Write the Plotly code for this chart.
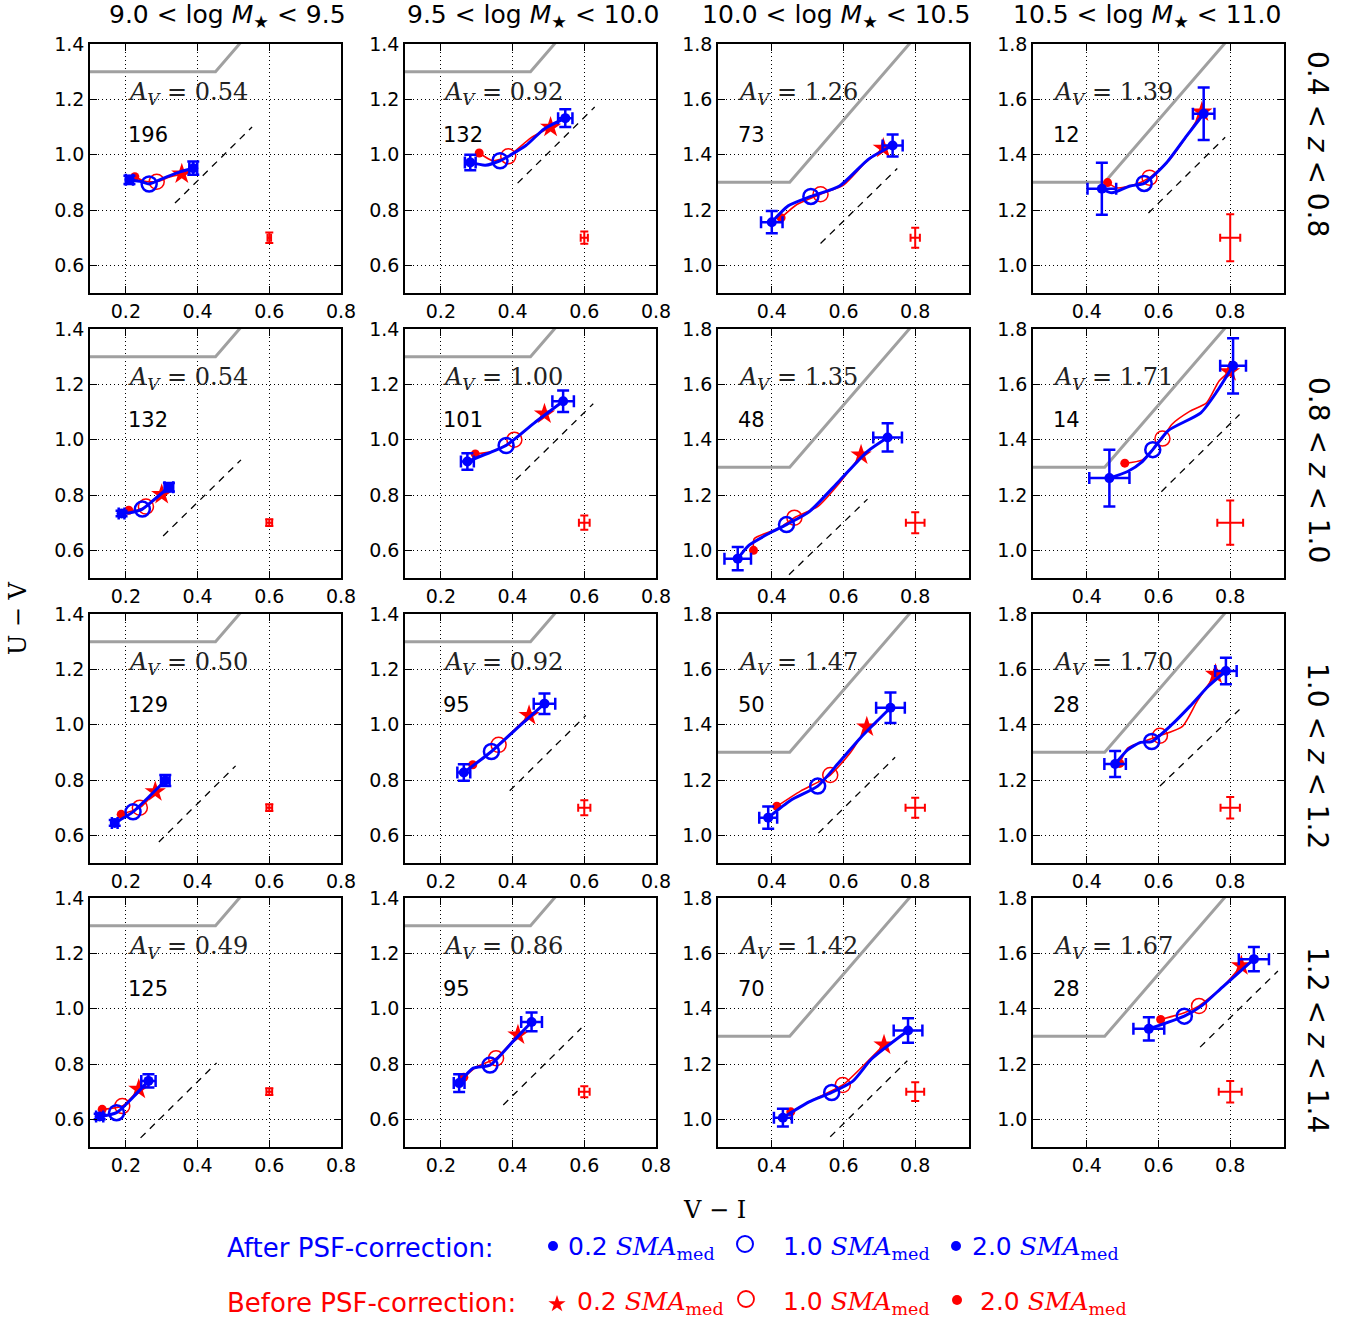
import plotly.graph_objects as go
from plotly.subplots import make_subplots

FIG_W, FIG_H = 1358, 1325

# ---------------- data ----------------
MASS_LO = ["9.0", "9.5", "10.0", "10.5"]
MASS_HI = ["9.5", "10.0", "10.5", "11.0"]
Z_LO = ["0.4", "0.8", "1.0", "1.2"]
Z_HI = ["0.8", "1.0", "1.2", "1.4"]

XRANGES = [[0.1, 0.8], [0.1, 0.8], [0.25, 0.95], [0.25, 0.95]]
YRANGES = [[0.5, 1.4], [0.5, 1.4], [0.9, 1.8], [0.9, 1.8]]
TEXT_X = [0.2, 0.2, 0.3, 0.3]

# quiescent-selection boundary (gray line)
QUIES_X = [0.0, 0.45, 1.0]
QUIES_Y = [1.3, 1.3, 2.125]

# typical error bar position per column
TYP_POS_X = [0.6, 0.6, 0.8, 0.8]
TYP_POS_Y = [0.7, 0.7, 1.1, 1.1]

AV_TEXT = ["0.54", "0.92", "1.26", "1.39",
           "0.54", "1.00", "1.35", "1.71",
           "0.50", "0.92", "1.47", "1.70",
           "0.49", "0.86", "1.42", "1.67"]
N_GAL = [196, 132, 73, 12,
         132, 101, 48, 14,
         129, 95, 50, 28,
         125, 95, 70, 28]

# After PSF correction (blue): first = 2.0 SMA, last = 0.2 SMA
BLUE_X = [
    [0.21, 0.244, 0.265, 0.314, 0.351, 0.388],
    [0.282, 0.324, 0.365, 0.437, 0.488, 0.547],
    [0.40, 0.446, 0.509, 0.589, 0.67, 0.737],
    [0.442, 0.47, 0.521, 0.56, 0.623, 0.679, 0.726],
    [0.188, 0.215, 0.246, 0.285, 0.32],
    [0.274, 0.33, 0.382, 0.46, 0.541],
    [0.305, 0.336, 0.392, 0.441, 0.504, 0.586, 0.667, 0.723],
    [0.463, 0.514, 0.555, 0.584, 0.627, 0.718, 0.764, 0.808],
    [0.169, 0.22, 0.265, 0.31],
    [0.264, 0.341, 0.415, 0.489],
    [0.39, 0.453, 0.528, 0.586, 0.647, 0.731],
    [0.479, 0.514, 0.55, 0.581, 0.637, 0.688, 0.739, 0.788],
    [0.127, 0.174, 0.22, 0.263],
    [0.251, 0.29, 0.337, 0.4, 0.453],
    [0.431, 0.504, 0.567, 0.627, 0.678, 0.78],
    [0.573, 0.672, 0.72, 0.78, 0.866],
]
BLUE_Y = [
    [0.909, 0.902, 0.894, 0.92, 0.938, 0.951],
    [0.972, 0.962, 0.978, 1.033, 1.093, 1.132],
    [1.156, 1.215, 1.249, 1.287, 1.384, 1.433],
    [1.277, 1.262, 1.287, 1.296, 1.372, 1.469, 1.548],
    [0.733, 0.737, 0.749, 0.79, 0.828],
    [0.921, 0.95, 0.979, 1.06, 1.139],
    [0.970, 1.018, 1.061, 1.093, 1.139, 1.248, 1.358, 1.408],
    [1.261, 1.285, 1.321, 1.364, 1.433, 1.497, 1.576, 1.667],
    [0.645, 0.685, 0.74, 0.798],
    [0.827, 0.903, 0.99, 1.076],
    [1.064, 1.127, 1.178, 1.261, 1.352, 1.461],
    [1.258, 1.309, 1.336, 1.339, 1.4, 1.467, 1.539, 1.594],
    [0.61, 0.624, 0.68, 0.739],
    [0.731, 0.785, 0.796, 0.88, 0.952],
    [1.006, 1.063, 1.097, 1.139, 1.218, 1.321],
    [1.327, 1.373, 1.41, 1.48, 1.579],
]
BLUE_MID = [2, 2, 2, 3, 2, 2, 3, 3, 1, 1, 2, 3, 1, 2, 2, 1]

BLUE_EX_OUT = [0.010, 0.015, 0.030, 0.040, 0.008, 0.018, 0.037, 0.056,
               0.008, 0.018, 0.025, 0.030, 0.010, 0.015, 0.025, 0.043]
BLUE_EY_OUT = [0.015, 0.028, 0.040, 0.094, 0.010, 0.030, 0.042, 0.103,
               0.010, 0.030, 0.040, 0.047, 0.010, 0.032, 0.032, 0.042]
BLUE_EX_IN = [0.011, 0.020, 0.028, 0.030, 0.012, 0.030, 0.040, 0.036,
              0.012, 0.030, 0.040, 0.030, 0.020, 0.029, 0.040, 0.042]
BLUE_EY_IN = [0.024, 0.032, 0.040, 0.095, 0.015, 0.039, 0.051, 0.100,
              0.020, 0.037, 0.055, 0.048, 0.024, 0.034, 0.044, 0.044]

# Before PSF correction (red): first = 2.0 SMA (dot), last = 0.2 SMA (star)
RED_X = [
    [0.225, 0.25, 0.286, 0.32, 0.356],
    [0.307, 0.345, 0.388, 0.45, 0.506],
    [0.426, 0.47, 0.536, 0.6, 0.66, 0.711],
    [0.458, 0.484, 0.53, 0.575, 0.63, 0.68, 0.721],
    [0.208, 0.23, 0.256, 0.30],
    [0.296, 0.35, 0.405, 0.489],
    [0.349, 0.351, 0.42, 0.463, 0.53, 0.59, 0.649],
    [0.506, 0.555, 0.611, 0.637, 0.688, 0.734, 0.769, 0.798],
    [0.187, 0.239, 0.282],
    [0.289, 0.32, 0.361, 0.446],
    [0.414, 0.48, 0.563, 0.62, 0.665],
    [0.492, 0.514, 0.56, 0.604, 0.667, 0.708, 0.759],
    [0.134, 0.19, 0.236],
    [0.264, 0.3, 0.354, 0.415],
    [0.453, 0.53, 0.598, 0.66, 0.713],
    [0.606, 0.672, 0.713, 0.78, 0.831],
]
RED_Y = [
    [0.92, 0.905, 0.902, 0.918, 0.93],
    [1.006, 0.978, 0.994, 1.06, 1.099],
    [1.172, 1.22, 1.257, 1.29, 1.37, 1.423],
    [1.299, 1.28, 1.29, 1.317, 1.38, 1.47, 1.554],
    [0.745, 0.745, 0.758, 0.802],
    [0.948, 0.96, 1.0, 1.093],
    [1.0, 1.042, 1.08, 1.118, 1.16, 1.245, 1.345],
    [1.315, 1.327, 1.404, 1.455, 1.503, 1.533, 1.612, 1.646],
    [0.676, 0.70, 0.758],
    [0.855, 0.88, 0.927, 1.033],
    [1.105, 1.16, 1.218, 1.30, 1.392],
    [1.26, 1.315, 1.34, 1.36, 1.394, 1.485, 1.582],
    [0.636, 0.648, 0.709],
    [0.752, 0.79, 0.821, 0.905],
    [1.027, 1.08, 1.124, 1.2, 1.269],
    [1.361, 1.385, 1.41, 1.48, 1.555],
]
RED_MID = [2, 2, 2, 3, 2, 2, 3, 2, 1, 2, 2, 3, 1, 2, 2, 2]

# dust vector (dashed line) endpoints
DUST_X0 = [0.337, 0.414, 0.536, 0.572, 0.304, 0.409, 0.448, 0.608,
           0.292, 0.392, 0.530, 0.604, 0.241, 0.374, 0.563, 0.716]
DUST_Y0 = [0.825, 0.897, 1.079, 1.189, 0.652, 0.855, 0.912, 1.212,
           0.576, 0.761, 1.008, 1.178, 0.533, 0.652, 0.937, 1.261]
DUST_X1 = [0.552, 0.629, 0.750, 0.786, 0.521, 0.625, 0.667, 0.826,
           0.506, 0.604, 0.744, 0.826, 0.453, 0.592, 0.778, 0.933]
DUST_Y1 = [1.100, 1.172, 1.350, 1.463, 0.927, 1.130, 1.185, 1.491,
           0.851, 1.033, 1.282, 1.455, 0.804, 0.930, 1.212, 1.536]

# typical error bars (red cross)
TYP_EX = [0.005, 0.010, 0.013, 0.028, 0.008, 0.015, 0.026, 0.036,
          0.008, 0.017, 0.027, 0.027, 0.008, 0.015, 0.025, 0.032]
TYP_EY = [0.019, 0.022, 0.036, 0.085, 0.012, 0.026, 0.038, 0.080,
          0.012, 0.027, 0.036, 0.039, 0.012, 0.020, 0.034, 0.039]

# ---------------- layout geometry (page pixels) ----------------
COL_PX = [(90, 341), (405, 656), (718, 969), (1033, 1284)]
ROW_PX = [(44, 293), (329, 578), (614, 863), (898, 1147)]
TITLE_CX = [228, 533, 836, 1147]

BLUE = "#0000ff"
RED = "#ff0000"
GRAY = "#a0a0a0"
SANS = "DejaVu Sans"
SERIF = "DejaVu Serif"


def fx(px):
    return px / FIG_W


def fy(py):
    return 1 - py / FIG_H


fig = make_subplots(rows=4, cols=4)

annotations = []
for r in range(4):
    for c in range(4):
        p = r * 4 + c
        i = p + 1
        xa = "x" if i == 1 else f"x{i}"
        ya = "y" if i == 1 else f"y{i}"
        kw = dict(row=r + 1, col=c + 1)

        fig.add_trace(go.Scatter(x=QUIES_X, y=QUIES_Y, mode="lines",
                                 line=dict(color=GRAY, width=3),
                                 hoverinfo="skip", showlegend=False), **kw)
        fig.add_trace(go.Scatter(x=[DUST_X0[p], DUST_X1[p]], y=[DUST_Y0[p], DUST_Y1[p]],
                                 mode="lines", line=dict(color="black", width=1.3, dash="7px,6px"),
                                 hoverinfo="skip", showlegend=False), **kw)
        fig.add_trace(go.Scatter(x=[TYP_POS_X[c]], y=[TYP_POS_Y[c]], mode="markers",
                                 marker=dict(color=RED, size=2),
                                 error_x=dict(type="data", array=[TYP_EX[p]], color=RED, thickness=2, width=4),
                                 error_y=dict(type="data", array=[TYP_EY[p]], color=RED, thickness=2, width=4),
                                 hoverinfo="skip", showlegend=False), **kw)

        rx, ry, rm = RED_X[p], RED_Y[p], RED_MID[p]
        fig.add_trace(go.Scatter(x=rx, y=ry, mode="lines",
                                 line=dict(color=RED, width=1.6, shape="spline", smoothing=0.6),
                                 hoverinfo="skip", showlegend=False), **kw)
        fig.add_trace(go.Scatter(x=[rx[0]], y=[ry[0]], mode="markers",
                                 marker=dict(color=RED, size=9, symbol="circle"),
                                 hoverinfo="skip", showlegend=False), **kw)
        fig.add_trace(go.Scatter(x=[rx[rm]], y=[ry[rm]], mode="markers",
                                 marker=dict(color=RED, size=15, symbol="circle-open",
                                             line=dict(color=RED, width=1.5)),
                                 hoverinfo="skip", showlegend=False), **kw)
        fig.add_trace(go.Scatter(x=[rx[-1]], y=[ry[-1]], mode="markers",
                                 marker=dict(color=RED, size=16, symbol="star"),
                                 hoverinfo="skip", showlegend=False), **kw)

        bx, by, bm = BLUE_X[p], BLUE_Y[p], BLUE_MID[p]
        fig.add_trace(go.Scatter(x=bx, y=by, mode="lines",
                                 line=dict(color=BLUE, width=3, shape="spline", smoothing=0.6),
                                 hoverinfo="skip", showlegend=False), **kw)
        fig.add_trace(go.Scatter(x=[bx[0], bx[-1]], y=[by[0], by[-1]], mode="markers",
                                 marker=dict(color=BLUE, size=10, symbol="circle"),
                                 error_x=dict(type="data", array=[BLUE_EX_OUT[p], BLUE_EX_IN[p]],
                                              color=BLUE, thickness=2.5, width=6),
                                 error_y=dict(type="data", array=[BLUE_EY_OUT[p], BLUE_EY_IN[p]],
                                              color=BLUE, thickness=2.5, width=6),
                                 hoverinfo="skip", showlegend=False), **kw)
        fig.add_trace(go.Scatter(x=[bx[bm]], y=[by[bm]], mode="markers",
                                 marker=dict(color=BLUE, size=15, symbol="circle-open",
                                             line=dict(color=BLUE, width=2.5)),
                                 hoverinfo="skip", showlegend=False), **kw)

        x0, x1 = COL_PX[c]
        y0, y1 = ROW_PX[r]
        axis_common = dict(showline=True, linecolor="black", linewidth=1.5, mirror="allticks",
                           ticks="inside", ticklen=7, tickwidth=1, tickcolor="black",
                           showgrid=True, gridcolor="black", gridwidth=1, griddash="1px,3px",
                           zeroline=False, tick0=0, dtick=0.2, tickformat=".1f", automargin=False,
                           tickfont=dict(family=SANS, size=19, color="black"))
        fig.update_layout(**{
            ("xaxis" if i == 1 else f"xaxis{i}"): dict(domain=[fx(x0), fx(x1)], range=XRANGES[c],
                                                         **axis_common),
            ("yaxis" if i == 1 else f"yaxis{i}"): dict(domain=[fy(y1), fy(y0)], range=YRANGES[c],
                                                         **axis_common),
        })

        annotations.append(dict(
            xref=xa, yref=f"{ya} domain", x=TEXT_X[c], y=0.80, xanchor="left", yanchor="middle",
            text=f"<i>A</i><sub><i>V</i></sub> = {AV_TEXT[p]}", showarrow=False,
            font=dict(family=SERIF, size=24, color="#222222")))
        annotations.append(dict(
            xref=xa, yref=f"{ya} domain", x=TEXT_X[c], y=0.635, xanchor="left", yanchor="middle",
            text=str(N_GAL[p]), showarrow=False,
            font=dict(family=SANS, size=21, color="black")))

# column titles
for c in range(4):
    annotations.append(dict(
        xref="paper", yref="paper", x=fx(TITLE_CX[c]), y=fy(16), xanchor="center", yanchor="middle",
        text=f"{MASS_LO[c]} &lt; log <i>M</i><sub>★</sub> &lt; {MASS_HI[c]}", showarrow=False,
        font=dict(family=SANS, size=25, color="black")))

# row labels
ROW_LABEL_Y = [144, 470, 756, 1040]
for r in range(4):
    annotations.append(dict(
        xref="paper", yref="paper", x=fx(1318), y=fy(ROW_LABEL_Y[r]), xanchor="center", yanchor="middle",
        text=f"{Z_LO[r]} &lt; <i>z</i> &lt; {Z_HI[r]}", showarrow=False, textangle=90,
        font=dict(family=SANS, size=28, color="black")))

# axis titles
annotations.append(dict(xref="paper", yref="paper", x=fx(18), y=fy(618), textangle=-90,
                        text="U − V", showarrow=False, xanchor="center", yanchor="middle",
                        font=dict(family=SERIF, size=24, color="black")))
annotations.append(dict(xref="paper", yref="paper", x=fx(714), y=fy(1210),
                        text="V − I", showarrow=False, xanchor="center", yanchor="middle",
                        font=dict(family=SERIF, size=24, color="black")))

# legend text
SMA = "<span style='font-family:DejaVu Serif'><i>SMA</i><sub>med</sub></span>"
LEG_ROWS = [
    ("After PSF-correction:", BLUE, 1248, [566, 781, 970]),
    ("Before PSF-correction:", RED, 1303, [575, 781, 978]),
]
SMA_VALUES = ["0.2", "1.0", "2.0"]
for label, col, yy, xs in LEG_ROWS:
    annotations.append(dict(xref="paper", yref="paper", x=fx(225), y=fy(yy), xanchor="left",
                            yanchor="middle", text=label, showarrow=False,
                            font=dict(family=SANS, size=26, color=col)))
    for v, xl in zip(SMA_VALUES, xs):
        annotations.append(dict(xref="paper", yref="paper", x=fx(xl), y=fy(yy), xanchor="left",
                                yanchor="middle", text=f"{v} {SMA}", showarrow=False,
                                font=dict(family=SANS, size=25, color=col)))

# legend markers on an overlay pixel axis (page coordinates)
LEG_AX = dict(xaxis="x17", yaxis="y17", hoverinfo="skip", showlegend=False)
fig.add_trace(go.Scatter(x=[553, 956], y=[1246, 1246], mode="markers",
                         marker=dict(color=BLUE, size=10), **LEG_AX))
fig.add_trace(go.Scatter(x=[745], y=[1244], mode="markers",
                         marker=dict(color=BLUE, size=16, symbol="circle-open",
                                     line=dict(color=BLUE, width=2)), **LEG_AX))
fig.add_trace(go.Scatter(x=[557], y=[1304], mode="markers",
                         marker=dict(color=RED, size=13, symbol="star"), **LEG_AX))
fig.add_trace(go.Scatter(x=[746], y=[1299], mode="markers",
                         marker=dict(color=RED, size=16, symbol="circle-open",
                                     line=dict(color=RED, width=1.8)), **LEG_AX))
fig.add_trace(go.Scatter(x=[957], y=[1300], mode="markers",
                         marker=dict(color=RED, size=10), **LEG_AX))

fig.update_layout(
    xaxis17=dict(domain=[0, 1], range=[0, FIG_W], visible=False, anchor="y17", fixedrange=True,
                 automargin=False),
    yaxis17=dict(domain=[0, 1], range=[FIG_H, 0], visible=False, anchor="x17", fixedrange=True,
                 automargin=False),
)

fig.update_layout(
    width=FIG_W, height=FIG_H,
    margin=dict(l=0, r=0, t=0, b=0, pad=0, autoexpand=False),
    paper_bgcolor="white", plot_bgcolor="rgba(0,0,0,0)",
    annotations=annotations,
    showlegend=False,
)

fig.write_html("out.html", config={"displayModeBar": False},
               post_script="document.body.style.margin='0px';document.body.style.overflow='hidden';")
